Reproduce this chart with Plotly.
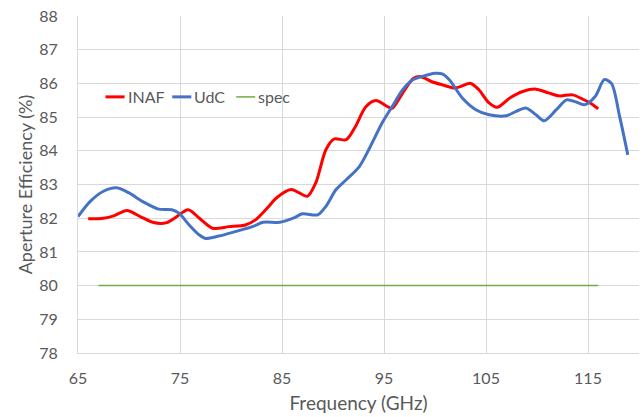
import plotly.graph_objects as go

# ---- data ----
inaf_f = [66.0, 67.5, 68.5, 69.8, 71.1, 72.4, 73.7, 74.6, 75.8, 76.9, 78.2, 79.8, 81.4, 82.4,
          83.7, 84.45, 85.9, 86.7, 87.5, 88.3, 89.3, 90.1, 91.3, 92.2, 93.2, 94.2, 95.4, 95.8,
          96.8, 97.9, 98.6, 99.7, 100.7, 102.0, 103.5, 104.3, 105.3, 106.1, 107.3, 108.6,
          109.9, 111.2, 112.2, 113.5, 114.5, 115.2, 116.0]
inaf_v = [81.98, 82.0, 82.07, 82.23, 82.05, 81.87, 81.87, 82.03, 82.25, 82.0, 81.7, 81.75, 81.8,
          81.95, 82.35, 82.6, 82.85, 82.75, 82.65, 83.04, 84.03, 84.35, 84.33, 84.72, 85.3,
          85.49, 85.3, 85.26, 85.7, 86.15, 86.2, 86.05, 85.96, 85.86, 86.0, 85.81, 85.42,
          85.29, 85.56, 85.76, 85.83, 85.71, 85.63, 85.66, 85.53, 85.42, 85.25]

udc_f = [65.0, 66.2, 67.5, 68.8, 70.0, 71.3, 72.9, 74.2, 74.9, 75.9, 76.9, 77.5, 78.8, 80.4,
         82.1, 83.15, 84.8, 86.1, 87.0, 88.5, 89.3, 90.3, 91.3, 92.6, 93.5, 94.8, 95.8, 96.8,
         97.8, 98.7, 100.0, 100.7, 101.4, 102.7, 104.0, 105.3, 107.0, 107.95, 108.9, 109.9,
         110.7, 111.9, 112.9, 113.9, 114.7, 115.7, 116.6, 117.3, 118.1, 118.9]
udc_v = [82.05, 82.5, 82.8, 82.9, 82.75, 82.5, 82.27, 82.25, 82.15, 81.8, 81.5, 81.4, 81.47,
         81.6, 81.75, 81.88, 81.88, 82.0, 82.13, 82.1, 82.35, 82.85, 83.14, 83.54, 84.03,
         84.82, 85.31, 85.8, 86.1, 86.2, 86.3, 86.28, 86.11, 85.56, 85.22, 85.07, 85.04,
         85.17, 85.27, 85.07, 84.89, 85.22, 85.51, 85.44, 85.37, 85.61, 86.11, 86.0, 85.02,
         83.88]

spec_f = [67.0, 116.0]
spec_v = [80.0, 80.0]

x_ticks = [65, 75, 85, 95, 105, 115]
y_ticks = [78, 79, 80, 81, 82, 83, 84, 85, 86, 87, 88]

names = ["INAF", "UdC", "spec"]
colors = ["#ff0000", "#4472c4", "#70ad47"]

FONT = "Lato"
GRAY = "#595959"
GRID = "#d9d9d9"

fig = go.Figure()
fig.add_trace(go.Scatter(x=inaf_f, y=inaf_v, mode="lines", name=names[0],
                         line=dict(color=colors[0], width=3, shape="spline", smoothing=0.8)))
fig.add_trace(go.Scatter(x=udc_f, y=udc_v, mode="lines", name=names[1],
                         line=dict(color=colors[1], width=3, shape="spline", smoothing=0.8)))
fig.add_trace(go.Scatter(x=spec_f, y=spec_v, mode="lines", name=names[2],
                         line=dict(color=colors[2], width=1.5)))

# manual compact legend (Excel style)
leg_items = [(0.049, names[0], colors[0], 3), (0.168, names[1], colors[1], 3),
             (0.282, names[2], colors[2], 1.5)]
for x0, nm, col, w in leg_items:
    fig.add_shape(type="line", xref="paper", yref="y", x0=x0, x1=x0 + 0.034,
                  y0=85.6, y1=85.6, line=dict(color=col, width=w))
    fig.add_annotation(xref="paper", yref="y", x=x0 + 0.036, y=85.6, text=nm,
                       showarrow=False, xanchor="left", yanchor="middle",
                       font=dict(family=FONT, size=16, color=GRAY))

fig.update_layout(
    width=643, height=417,
    margin=dict(l=78, r=4, t=16, b=64),
    paper_bgcolor="white", plot_bgcolor="white",
    showlegend=False,
    font=dict(family=FONT, color=GRAY),
)
fig.update_xaxes(range=[65, 120], tickvals=x_ticks, showgrid=True, gridcolor=GRID,
                 gridwidth=1, zeroline=False, showline=True, linecolor=GRID,
                 ticks="", tickfont=dict(family=FONT, size=16, color=GRAY),
                 ticklabelstandoff=11,
                 title=dict(text="Frequency (GHz)", font=dict(family=FONT, size=19, color=GRAY),
                            standoff=10))
fig.update_yaxes(range=[78, 88], tickvals=y_ticks, showgrid=True, gridcolor=GRID,
                 gridwidth=1, zeroline=False, showline=True, linecolor=GRID,
                 ticks="", tickfont=dict(family=FONT, size=16, color=GRAY),
                 ticklabelstandoff=16,
                 title=dict(text="Aperture Efficiency (%)", font=dict(family=FONT, size=18, color=GRAY),
                            standoff=1))

fig.write_html("out.html")
